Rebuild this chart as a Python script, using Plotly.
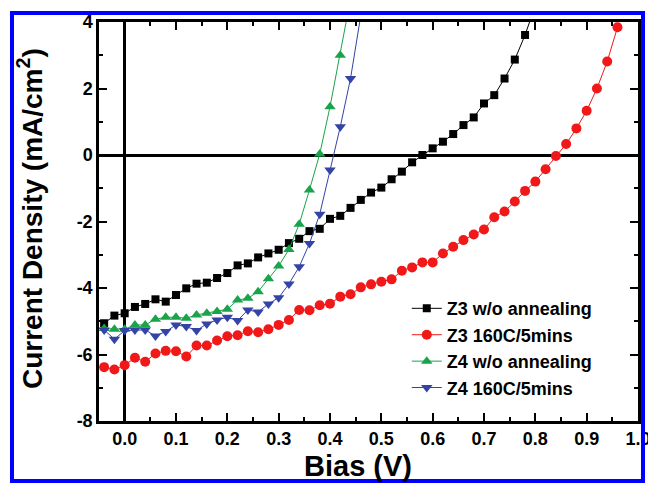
import plotly.graph_objects as go

# Bias (V) sample points, 0.02 V steps
bias_z3_wo = [-0.04, -0.02, 0.00, 0.02, 0.04, 0.06, 0.08, 0.10, 0.12, 0.14, 0.16, 0.18, 0.20,
              0.22, 0.24, 0.26, 0.28, 0.30, 0.32, 0.34, 0.36, 0.38, 0.40, 0.42, 0.44, 0.46,
              0.48, 0.50, 0.52, 0.54, 0.56, 0.58, 0.60, 0.62, 0.64, 0.66, 0.68, 0.70, 0.72,
              0.74, 0.76, 0.78, 0.80]
j_z3_wo = [-5.06, -4.83, -4.76, -4.57, -4.48, -4.34, -4.41, -4.21, -4.01, -3.87, -3.84, -3.70, -3.55,
           -3.32, -3.26, -3.08, -2.96, -2.85, -2.65, -2.52, -2.29, -2.22, -1.92, -1.83, -1.59, -1.35,
           -1.13, -0.98, -0.73, -0.50, -0.22, 0.00, 0.20, 0.40, 0.63, 0.90, 1.13, 1.55, 1.80,
           2.30, 2.87, 3.61, 4.50]

bias_z3_160 = [-0.04, -0.02, 0.00, 0.02, 0.04, 0.06, 0.08, 0.10, 0.12, 0.14, 0.16, 0.18, 0.20,
               0.22, 0.24, 0.26, 0.28, 0.30, 0.32, 0.34, 0.36, 0.38, 0.40, 0.42, 0.44, 0.46,
               0.48, 0.50, 0.52, 0.54, 0.56, 0.58, 0.60, 0.62, 0.64, 0.66, 0.68, 0.70, 0.72,
               0.74, 0.76, 0.78, 0.80, 0.82, 0.84, 0.86, 0.88, 0.90, 0.92, 0.94, 0.96]
j_z3_160 = [-6.38, -6.45, -6.32, -6.10, -6.22, -5.97, -5.89, -5.90, -6.06, -5.73, -5.73, -5.58, -5.45,
            -5.42, -5.30, -5.33, -5.24, -5.11, -4.96, -4.66, -4.67, -4.52, -4.47, -4.26, -4.19, -3.98,
            -3.89, -3.81, -3.74, -3.48, -3.38, -3.23, -3.23, -2.96, -2.76, -2.56, -2.39, -2.24, -1.87,
            -1.70, -1.40, -1.08, -0.80, -0.43, -0.03, 0.33, 0.80, 1.33, 2.00, 2.81, 3.84]

bias_z4_wo = [-0.04, -0.02, 0.00, 0.02, 0.04, 0.06, 0.08, 0.10, 0.12, 0.14, 0.16, 0.18, 0.20,
              0.22, 0.24, 0.26, 0.28, 0.30, 0.32, 0.34, 0.36, 0.38, 0.40, 0.42, 0.44]
j_z4_wo = [-5.22, -5.24, -5.24, -5.11, -5.11, -4.94, -4.88, -4.88, -4.91, -4.81, -4.76, -4.71, -4.64,
           -4.36, -4.31, -4.11, -3.72, -3.34, -2.84, -2.08, -1.05, 0.03, 1.45, 3.00, 4.70]

bias_z4_160 = [-0.04, -0.02, 0.00, 0.02, 0.04, 0.06, 0.08, 0.10, 0.12, 0.14, 0.16, 0.18, 0.20,
               0.22, 0.24, 0.26, 0.28, 0.30, 0.32, 0.34, 0.36, 0.38, 0.40, 0.42, 0.44, 0.46]
j_z4_160 = [-5.26, -5.54, -5.28, -5.26, -5.26, -5.44, -5.31, -5.11, -5.16, -5.28, -5.08, -4.96, -4.88,
            -4.98, -4.66, -4.72, -4.48, -4.29, -3.88, -3.36, -2.66, -1.78, -0.45, 0.85, 2.30, 4.20]

series = [
    ("Z3 w/o annealing", bias_z3_wo, j_z3_wo, "#000000", "square", 8),
    ("Z3 160C/5mins", bias_z3_160, j_z3_160, "#f01818", "circle", 10),
    ("Z4 w/o annealing", bias_z4_wo, j_z4_wo, "#1aa34a", "triangle-up", 10),
    ("Z4 160C/5mins", bias_z4_160, j_z4_160, "#3343a6", "triangle-down", 10),
]

x_ticks = [0.0, 0.1, 0.2, 0.3, 0.4, 0.5, 0.6, 0.7, 0.8, 0.9, 1.0]
y_ticks = [-8, -6, -4, -2, 0, 2, 4]

fig = go.Figure()
for name, xs, ys, col, sym, sz in series:
    fig.add_trace(go.Scatter(
        x=xs, y=ys, name=name, mode="lines+markers",
        line=dict(color=col, width=1),
        marker=dict(symbol=sym, size=sz, color=col, line=dict(width=0)),
    ))

font_family = "Liberation Sans, Arial, sans-serif"
axis_common = dict(
    showline=True, linecolor="black", linewidth=2.5, mirror="ticks",
    ticks="inside", ticklen=8, tickwidth=2, tickcolor="black",
    showgrid=False, zeroline=True, zerolinecolor="black", zerolinewidth=2.5,
    automargin=False, ticklabeloverflow="allow",
    tickfont=dict(family=font_family, size=18, color="black", weight="bold"),
)

fig.update_xaxes(
    range=[-0.05, 1.0], tickvals=x_ticks, ticktext=[f"{v:.1f}" for v in x_ticks],
    minor=dict(dtick=0.05, tick0=0, ticks="inside", ticklen=4, tickwidth=2, tickcolor="black"),
    **axis_common,
)
fig.update_yaxes(
    range=[-8, 4], tickvals=y_ticks, ticktext=[str(v) for v in y_ticks],
    minor=dict(dtick=1, tick0=0, ticks="inside", ticklen=4, tickwidth=2, tickcolor="black"),
    **axis_common,
)

fig.update_layout(
    width=648, height=485,
    margin=dict(l=99, r=10, t=22, b=64, autoexpand=False),
    paper_bgcolor="white", plot_bgcolor="white",
    showlegend=True,
    legend=dict(
        x=0.571, y=0.328, xanchor="left", yanchor="top",
        bgcolor="rgba(0,0,0,0)", borderwidth=0,
        font=dict(family=font_family, size=18, color="black", weight="bold"),
        tracegroupgap=0,
    ),
    annotations=[
        dict(text="Bias (V)", xref="paper", yref="paper", x=(358 - 99) / 539, y=(421 - 466) / 399,
             xanchor="center", yanchor="middle", showarrow=False,
             font=dict(family=font_family, size=29, color="black", weight="bold")),
        dict(text="Current Density (mA/cm<sup>2</sup>)", xref="paper", yref="paper",
             x=(30 - 99) / 539, y=(421 - 219) / 399, textangle=-90,
             xanchor="center", yanchor="middle", showarrow=False,
             font=dict(family=font_family, size=28, color="black", weight="bold")),
    ],
    shapes=[
        dict(type="rect", xref="paper", yref="paper",
             x0=(12 - 99) / 539, x1=(643 - 99) / 539,
             y0=(421 - 481) / 399, y1=(421 - 13) / 399,
             line=dict(color="#0000ff", width=4), fillcolor="rgba(0,0,0,0)", layer="above"),
    ],
)

fig.write_html("out.html")
